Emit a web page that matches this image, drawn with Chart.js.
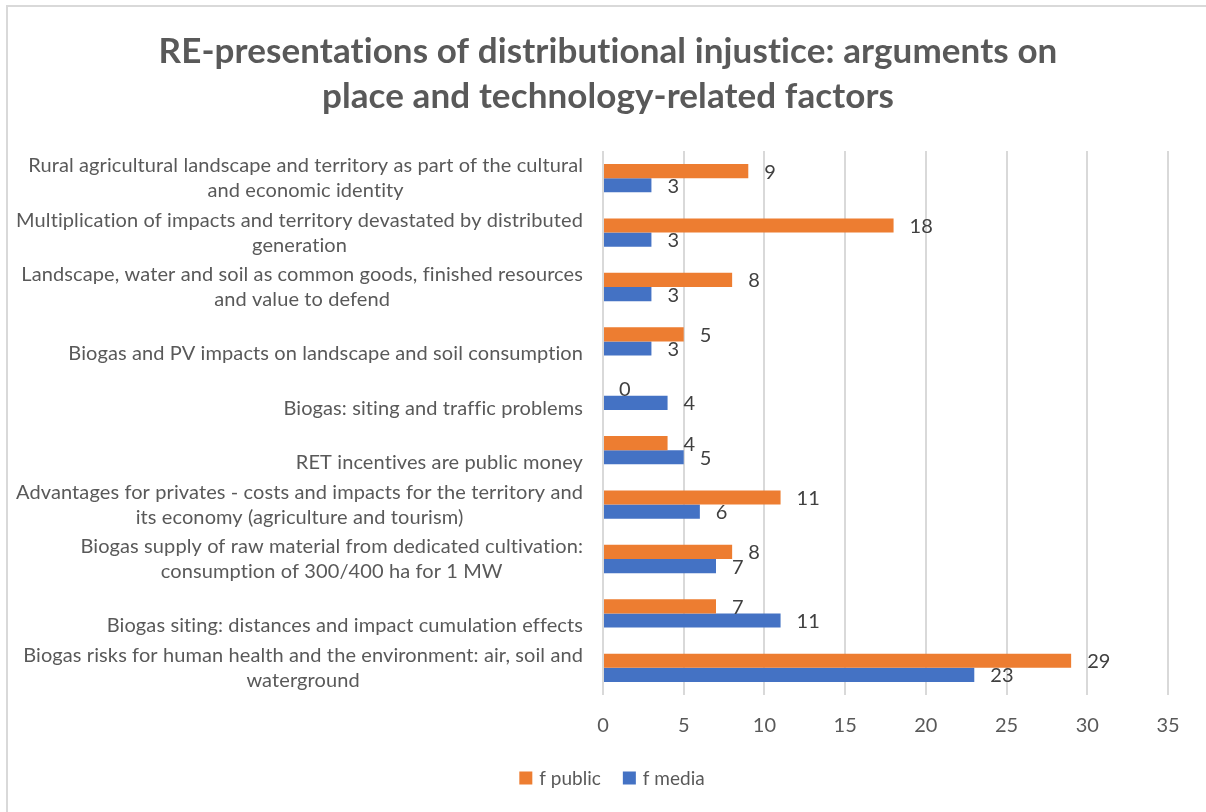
<!DOCTYPE html>
<html>
<head>
<meta charset="utf-8">
<title>RE-presentations of distributional injustice</title>
<script src="https://cdn.jsdelivr.net/npm/chart.js@4.4.1/dist/chart.umd.min.js"></script>
<style>
    html, body { margin: 0; padding: 0; background: #ffffff; }
    #chart-wrap { width: 1206px; height: 812px; position: relative; }
</style>
</head>
<body>
<div id="chart-wrap"><canvas id="bar-chart"></canvas></div>
<script>
// Argument categories, top to bottom (each entry is the wrapped label lines)
const categories = [
    ['Rural agricultural landscape and territory as part of the cultural', 'and economic identity'],
    ['Multiplication of impacts and territory devastated by distributed', 'generation'],
    ['Landscape, water and soil as common goods, finished resources', 'and value to defend'],
    ['Biogas and PV impacts on landscape and soil consumption'],
    ['Biogas: siting and traffic problems'],
    ['RET incentives are public money'],
    ['Advantages for privates - costs and impacts for the territory and', 'its economy (agriculture and tourism)'],
    ['Biogas supply of raw material from dedicated cultivation:', 'consumption of 300/400 ha for 1 MW'],
    ['Biogas siting: distances and impact cumulation effects'],
    ['Biogas risks for human health and the environment: air, soil and', 'waterground']
];

// Frequencies per series
const fPublic = [9, 18, 8, 5, 0, 4, 11, 8, 7, 29];
const fMedia = [3, 3, 3, 3, 4, 5, 6, 7, 11, 23];

const seriesNames = ['f public', 'f media'];
const seriesColors = ['#ED7D31', '#4472C4'];

const titleLines = [
    'RE-presentations of distributional injustice: arguments on',
    'place and technology-related factors'
];

const FONT = 'Lato, "Open Sans", sans-serif';
const TEXT_GREY = '#595959';

// Tiny letter spacing keeps Lato from joining "ti"/"ffi" into ligatures
function plainText(c) {
    if ('letterSpacing' in c) c.letterSpacing = '0.1px';
}

// White background plus the thin frame on the top and left edges
const framePlugin = {
    id: 'frame',
    beforeDraw(chart) {
        const c = chart.ctx;
        c.save();
        c.fillStyle = '#ffffff';
        c.fillRect(0, 0, chart.width, chart.height);
        c.strokeStyle = '#d9d9d9';
        c.lineWidth = 2;
        c.beginPath();
        c.moveTo(7, chart.height);
        c.lineTo(7, 6);
        c.lineTo(chart.width, 6);
        c.stroke();
        c.restore();
    }
};

// Two-line bold title
const titlePlugin = {
    id: 'bigTitle',
    afterDraw(chart) {
        const c = chart.ctx;
        c.save();
        plainText(c);
        c.font = 'bold 35px ' + FONT;
        c.fillStyle = TEXT_GREY;
        c.textAlign = 'center';
        c.textBaseline = 'middle';
        titleLines.forEach((line, i) => c.fillText(line, 608, 52 + i * 45));
        c.restore();
    }
};

// Category labels: lines centred on each other, block right-aligned to the axis.
// Labels sit in a two-row slot filled from the bottom.
const categoryLabelPlugin = {
    id: 'categoryLabels',
    afterDraw(chart) {
        const c = chart.ctx;
        const yScale = chart.scales.y;
        const right = chart.chartArea.left - 20;
        const lineH = 25;
        c.save();
        plainText(c);
        c.font = '20px ' + FONT;
        c.fillStyle = TEXT_GREY;
        c.textAlign = 'center';
        c.textBaseline = 'middle';
        categories.forEach((lines, i) => {
            const yMid = yScale.getPixelForTick(i);
            const blockW = Math.max(...lines.map(l => c.measureText(l).width));
            const cx = right - blockW / 2;
            lines.forEach((line, j) => {
                const y = yMid + lineH / 2 - (lines.length - 1 - j) * lineH;
                c.fillText(line, cx, y);
            });
        });
        c.restore();
    }
};

// Value labels just past the end of each bar
const valueLabelPlugin = {
    id: 'valueLabels',
    afterDatasetsDraw(chart) {
        const c = chart.ctx;
        c.save();
        c.font = '20px ' + FONT;
        c.fillStyle = '#404040';
        c.textAlign = 'left';
        c.textBaseline = 'middle';
        chart.data.datasets.forEach((ds, di) => {
            const meta = chart.getDatasetMeta(di);
            meta.data.forEach((bar, i) => {
                c.fillText(String(ds.data[i]), bar.x + 16, bar.y + 1);
            });
        });
        c.restore();
    }
};

// Legend under the axis
const legendPlugin = {
    id: 'bottomLegend',
    afterDraw(chart) {
        const c = chart.ctx;
        const box = 13, gap = 7, spacing = 22, yMid = 778;
        c.save();
        c.font = '19px ' + FONT;
        c.textBaseline = 'middle';
        c.textAlign = 'left';
        const widths = seriesNames.map(n => c.measureText(n).width);
        const total = widths.reduce((a, w) => a + box + gap + w, 0) + spacing * (seriesNames.length - 1);
        let x = 612 - total / 2;
        seriesNames.forEach((name, i) => {
            c.fillStyle = seriesColors[i];
            c.fillRect(x, yMid - box / 2, box, box);
            c.fillStyle = TEXT_GREY;
            c.fillText(name, x + box + gap, yMid + 1);
            x += box + gap + widths[i] + spacing;
        });
        c.restore();
    }
};

const ctx = document.getElementById('bar-chart');

new Chart(ctx, {
    type: 'bar',
    data: {
        labels: categories,
        datasets: [
            {
                label: seriesNames[0],
                data: fPublic,
                backgroundColor: seriesColors[0]
            },
            {
                label: seriesNames[1],
                data: fMedia,
                backgroundColor: seriesColors[1]
            }
        ]
    },
    options: {
        indexAxis: 'y',
        responsive: true,
        maintainAspectRatio: false,
        animation: false,
        devicePixelRatio: 1,
        categoryPercentage: 0.52,
        barPercentage: 1.0,
        layout: {
            padding: { left: 7, right: 38, top: 151, bottom: 0 }
        },
        plugins: {
            legend: { display: false },
            title: { display: false },
            tooltip: { enabled: false }
        },
        scales: {
            x: {
                min: 0,
                max: 35,
                ticks: {
                    stepSize: 5,
                    color: TEXT_GREY,
                    padding: 19,
                    font: { family: FONT, size: 20 }
                },
                grid: {
                    color: '#d9d9d9',
                    lineWidth: 2,
                    drawTicks: false
                },
                border: { display: false },
                afterFit(scale) {
                    scale.height = 117;
                }
            },
            y: {
                ticks: { display: false },
                grid: { display: false },
                border: { display: false },
                afterFit(scale) {
                    scale.width = 596;
                }
            }
        }
    },
    plugins: [framePlugin, titlePlugin, categoryLabelPlugin, valueLabelPlugin, legendPlugin]
});
</script>
</body>
</html>
